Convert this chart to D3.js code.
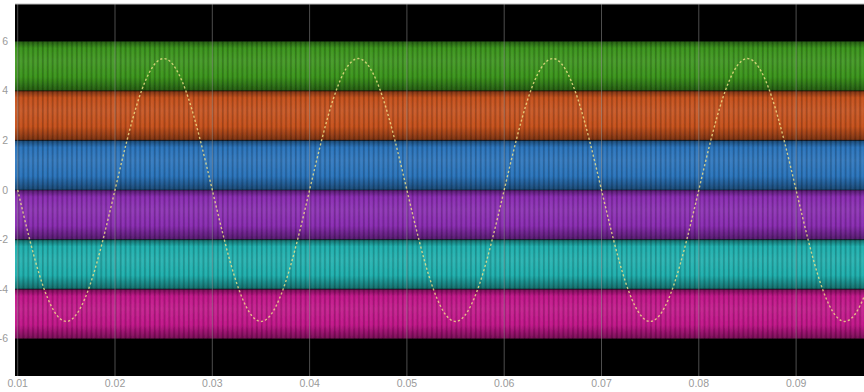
<!DOCTYPE html>
<html>
<head>
<meta charset="utf-8">
<script src="https://cdn.jsdelivr.net/npm/d3@7"></script>
<style>
  body { margin: 0; background: #fff; }
  #graf { width: 864px; height: 392px; }
  text { font-family: "Liberation Sans", Arial, sans-serif; }
</style>
</head>
<body>
<div id="graf"></div>
<script>
// tick values
const xTicks = [0.01, 0.02, 0.03, 0.04, 0.05, 0.06, 0.07, 0.08, 0.09]
const yTicks = [6, 4, 2, 0, -2, -4, -6]

// PWM bands, one per level pair
const bandNames = ['v1', 'v2', 'v3', 'v4', 'v5', 'v6']
const bandHigh = [6, 4, 2, 0, -2, -4]
const bandLow = [4, 2, 0, -2, -4, -6]
const bandColors = ['#3b951c', '#c6511c', '#2a74bc', '#8a2cb2', '#1fb0ae', '#c2168a']
const carrierPeriod = 0.0005

// reference sine
const sineT = [0.01, 0.0125, 0.015, 0.0175, 0.02, 0.0225, 0.025, 0.0275,
    0.03, 0.0325, 0.035, 0.0375, 0.04, 0.0425, 0.045, 0.0475,
    0.05, 0.0525, 0.055, 0.0575, 0.06, 0.0625, 0.065, 0.0675,
    0.07, 0.0725, 0.075, 0.0775, 0.08, 0.0825, 0.085, 0.0875,
    0.09, 0.0925, 0.095, 0.0975, 0.1]
const sineV = [0, -3.75, -5.3, -3.75, 0, 3.75, 5.3, 3.75,
    0, -3.75, -5.3, -3.75, 0, 3.75, 5.3, 3.75,
    0, -3.75, -5.3, -3.75, 0, 3.75, 5.3, 3.75,
    0, -3.75, -5.3, -3.75, 0, 3.75, 5.3, 3.75,
    0, -3.75, -5.3, -3.75, 0]

const ancho = 864, alto = 392
const plot = { left: 15, right: 864, top: 4, bottom: 376 }

const x = d3.scaleLinear().domain([0.01, 0.1]).range([17.7, 17.7 + 9 * 97.3])
const y = d3.scaleLinear().domain([-7.5, 7.5]).range([376, 4])

const svg = d3.select('#graf').append('svg')
    .attr('width', ancho)
    .attr('height', alto)

const defs = svg.append('defs')
defs.append('clipPath').attr('id', 'clip')
    .append('rect')
    .attr('x', plot.left).attr('y', plot.top)
    .attr('width', plot.right - plot.left).attr('height', plot.bottom - plot.top)

defs.append('filter').attr('id', 'soft')
    .append('feGaussianBlur').attr('stdDeviation', 0.6)

// vertical shading inside each band
bandColors.forEach((c, i) => {
    const g = defs.append('linearGradient')
        .attr('id', 'grad' + i)
        .attr('x1', 0).attr('x2', 0).attr('y1', 0).attr('y2', 1)
    const dark = d3.interpolateRgb(c, '#000')(0.4)
    const light = d3.interpolateRgb(c, '#fff')(0.06)
    g.append('stop').attr('offset', 0).attr('stop-color', dark)
    g.append('stop').attr('offset', 0.14).attr('stop-color', c)
    g.append('stop').attr('offset', 0.4).attr('stop-color', light)
    g.append('stop').attr('offset', 0.72).attr('stop-color', c)
    g.append('stop').attr('offset', 1).attr('stop-color', dark)
})

// switching stripes
const stripeW = x(0.01 + carrierPeriod) - x(0.01)
const pat = defs.append('pattern')
    .attr('id', 'stripes')
    .attr('patternUnits', 'userSpaceOnUse')
    .attr('x', x(0.01)).attr('y', 0)
    .attr('width', stripeW).attr('height', alto)
pat.append('rect')
    .attr('x', 0).attr('y', 0).attr('width', 1.6).attr('height', alto)
    .attr('fill', '#000').attr('opacity', 0.2)
pat.append('rect')
    .attr('x', stripeW / 2).attr('y', 0).attr('width', 1).attr('height', alto)
    .attr('fill', '#fff').attr('opacity', 0.05)

const area = svg.append('g').attr('clip-path', 'url(#clip)')

area.append('rect')
    .attr('x', plot.left).attr('y', plot.top)
    .attr('width', plot.right - plot.left).attr('height', plot.bottom - plot.top)
    .attr('fill', '#000')

const bands = area.append('g').attr('filter', 'url(#soft)')

bands.selectAll('rect.band')
    .data(bandNames)
    .enter()
    .append('rect')
    .attr('class', 'band')
    .attr('x', plot.left)
    .attr('width', plot.right - plot.left)
    .attr('y', (d, i) => y(bandHigh[i]))
    .attr('height', (d, i) => y(bandLow[i]) - y(bandHigh[i]))
    .attr('fill', (d, i) => `url(#grad${i})`)

bands.selectAll('rect.stripe')
    .data(bandNames)
    .enter()
    .append('rect')
    .attr('class', 'stripe')
    .attr('x', plot.left)
    .attr('width', plot.right - plot.left)
    .attr('y', (d, i) => y(bandHigh[i]))
    .attr('height', (d, i) => y(bandLow[i]) - y(bandHigh[i]))
    .attr('fill', 'url(#stripes)')

// band edges
bands.selectAll('line.edge')
    .data(yTicks)
    .enter()
    .append('line')
    .attr('class', 'edge')
    .attr('x1', plot.left).attr('x2', plot.right)
    .attr('y1', d => y(d)).attr('y2', d => y(d))
    .attr('stroke', '#000').attr('stroke-opacity', 0.4).attr('stroke-width', 1.2)

// grid
area.selectAll('line.grid')
    .data(xTicks)
    .enter()
    .append('line')
    .attr('class', 'grid')
    .attr('x1', d => x(d)).attr('x2', d => x(d))
    .attr('y1', plot.top).attr('y2', plot.bottom)
    .attr('stroke', '#9a9a9a').attr('stroke-opacity', 0.5).attr('stroke-width', 1)

// sine
const sineData = sineT.map((t, i) => ({ t, v: sineV[i] }))
area.append('path')
    .datum(sineData)
    .attr('fill', 'none')
    .attr('stroke', '#f3e48a')
    .attr('stroke-opacity', 0.8)
    .attr('stroke-width', 1.4)
    .attr('stroke-dasharray', '2.2 2.2')
    .attr('d', d3.line().x(d => x(d.t)).y(d => y(d.v)).curve(d3.curveNatural))

// top border
svg.append('line')
    .attr('x1', plot.left).attr('x2', plot.right)
    .attr('y1', plot.top).attr('y2', plot.top)
    .attr('stroke', '#bbb').attr('stroke-width', 1)

// tick labels
svg.selectAll('text.xl')
    .data(xTicks)
    .enter()
    .append('text')
    .attr('class', 'xl')
    .attr('x', d => x(d))
    .attr('y', 387)
    .attr('text-anchor', 'middle')
    .attr('font-size', 10.5)
    .attr('fill', '#9a9a9a')
    .text(d => d3.format('.2f')(d))

svg.selectAll('text.yl')
    .data(yTicks)
    .enter()
    .append('text')
    .attr('class', 'yl')
    .attr('x', 8)
    .attr('y', d => y(d) + 3.5)
    .attr('text-anchor', 'end')
    .attr('font-size', 10.5)
    .attr('fill', '#9a9a9a')
    .text(d => d)
</script>
</body>
</html>
